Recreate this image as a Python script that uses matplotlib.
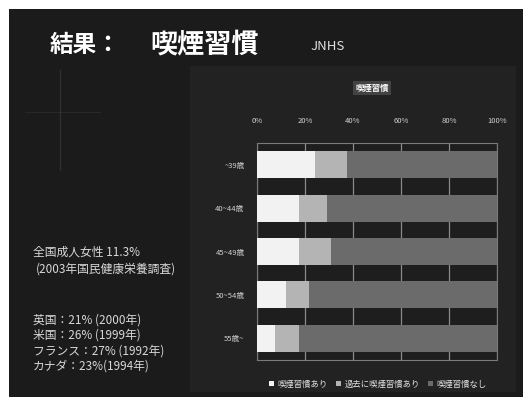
import numpy as np
import matplotlib
matplotlib.use('Agg')
import matplotlib.pyplot as plt
from matplotlib.patches import Rectangle
from matplotlib.lines import Line2D

plt.rcParams['font.family'] = ['Noto Sans CJK JP', 'DejaVu Sans']

# data
age_groups = ['~39歳', '40~44歳', '45~49歳', '50~54歳', '55歳~']
current = [24.0, 17.5, 17.5, 12.0, 7.5]
past = [13.5, 11.5, 13.5, 9.5, 10.0]
never = [100 - c - p for c, p in zip(current, past)]
series_names = ['喫煙習慣あり', '過去に喫煙習慣あり', '喫煙習慣なし']
series_colors = ['#f2f2f2', '#b4b4b4', '#6b6b6b']
xticks = [0, 20, 40, 60, 80, 100]

notes_top = ['全国成人女性 11.3%', '(2003年国民健康栄養調査)']
notes_bottom = ['英国：21% (2000年)', '米国：26% (1999年)',
                'フランス：27% (1992年)', 'カナダ：23%(1994年)']

W, H = 523, 397
fig = plt.figure(figsize=(W / 100, H / 100), dpi=100)
fig.patch.set_facecolor('white')


def fx(px):
    return px / W


def fy(py):
    return 1 - py / H


# dark slide background, white margin top/left
fig.add_artist(Rectangle((fx(9), 0), 1 - fx(9), fy(9), transform=fig.transFigure,
                         facecolor='#1b1b1b', edgecolor='none', zorder=0))
# slightly lighter chart panel
fig.add_artist(Rectangle((fx(190), fy(392)), fx(326), fy(66) - fy(392),
                         transform=fig.transFigure, facecolor='#222222',
                         edgecolor='none', zorder=0))
# faint star sparkle
fig.add_artist(Line2D([fx(60), fx(60)], [fy(70), fy(170)], transform=fig.transFigure,
                      color='#555555', lw=1.0, alpha=0.35))
fig.add_artist(Line2D([fx(25), fx(100)], [fy(112), fy(112)], transform=fig.transFigure,
                      color='#4a4a4a', lw=0.7, alpha=0.3))

# slide title
fig.text(fx(50), fy(45), '結果：', color='white', fontsize=17, fontweight='bold',
         va='center', ha='left')
fig.text(fx(150), fy(45), '喫煙習慣', color='white', fontsize=19.5, fontweight='bold',
         va='center', ha='left')
fig.text(fx(310), fy(47), 'JNHS', color='#e0e0e0', fontsize=9.5, va='center', ha='left')

# left notes
fig.text(fx(33), fy(252), notes_top[0], color='#d8d8d8', fontsize=8.5, va='center')
fig.text(fx(36), fy(269), notes_top[1], color='#d8d8d8', fontsize=8.5, va='center')
for i, line in enumerate(notes_bottom):
    fig.text(fx(33), fy(320 + i * 15.5), line, color='#d8d8d8', fontsize=8.5, va='center')

# chart
ax = fig.add_axes([fx(257), fy(360), fx(240), fy(143) - fy(360)])
ax.set_facecolor('#1e1e1e')
y = np.arange(len(age_groups))
left = np.zeros(len(age_groups))
for vals, name, col in zip([current, past, never], series_names, series_colors):
    ax.barh(y, vals, left=left, height=0.62, color=col, label=name, zorder=3)
    left += np.array(vals)

ax.set_xlim(0, 100)
ax.set_ylim(len(age_groups) - 0.5, -0.5)
ax.set_xticks(xticks)
ax.set_xticklabels([f'{t}%' for t in xticks])
ax.xaxis.tick_top()
ax.set_yticks(y)
ax.set_yticklabels(age_groups)
ax.tick_params(axis='x', colors='#d0d0d0', labelsize=5.5, length=0, pad=13)
ax.tick_params(axis='y', colors='#d0d0d0', labelsize=5.5, length=0, pad=9)
ax.grid(axis='x', color='#8a8a8a', lw=0.9, zorder=1)
for s in ax.spines.values():
    s.set_color('#7a7a7a')
    s.set_linewidth(0.8)

fig.text(fx(372), fy(88), '喫煙習慣', color='white', fontsize=6, fontweight='bold',
         ha='center', va='center',
         bbox=dict(facecolor='#5a5a5a', edgecolor='none', pad=1.5, alpha=0.6))

leg = fig.legend(loc='center', bbox_to_anchor=(fx(378), fy(384)), ncol=3,
                 frameon=False, fontsize=6, handlelength=0.6, handleheight=0.6,
                 handletextpad=0.4, columnspacing=1.0)
for t in leg.get_texts():
    t.set_color('#e0e0e0')

plt.savefig('out.png', dpi=100, facecolor=fig.get_facecolor())
